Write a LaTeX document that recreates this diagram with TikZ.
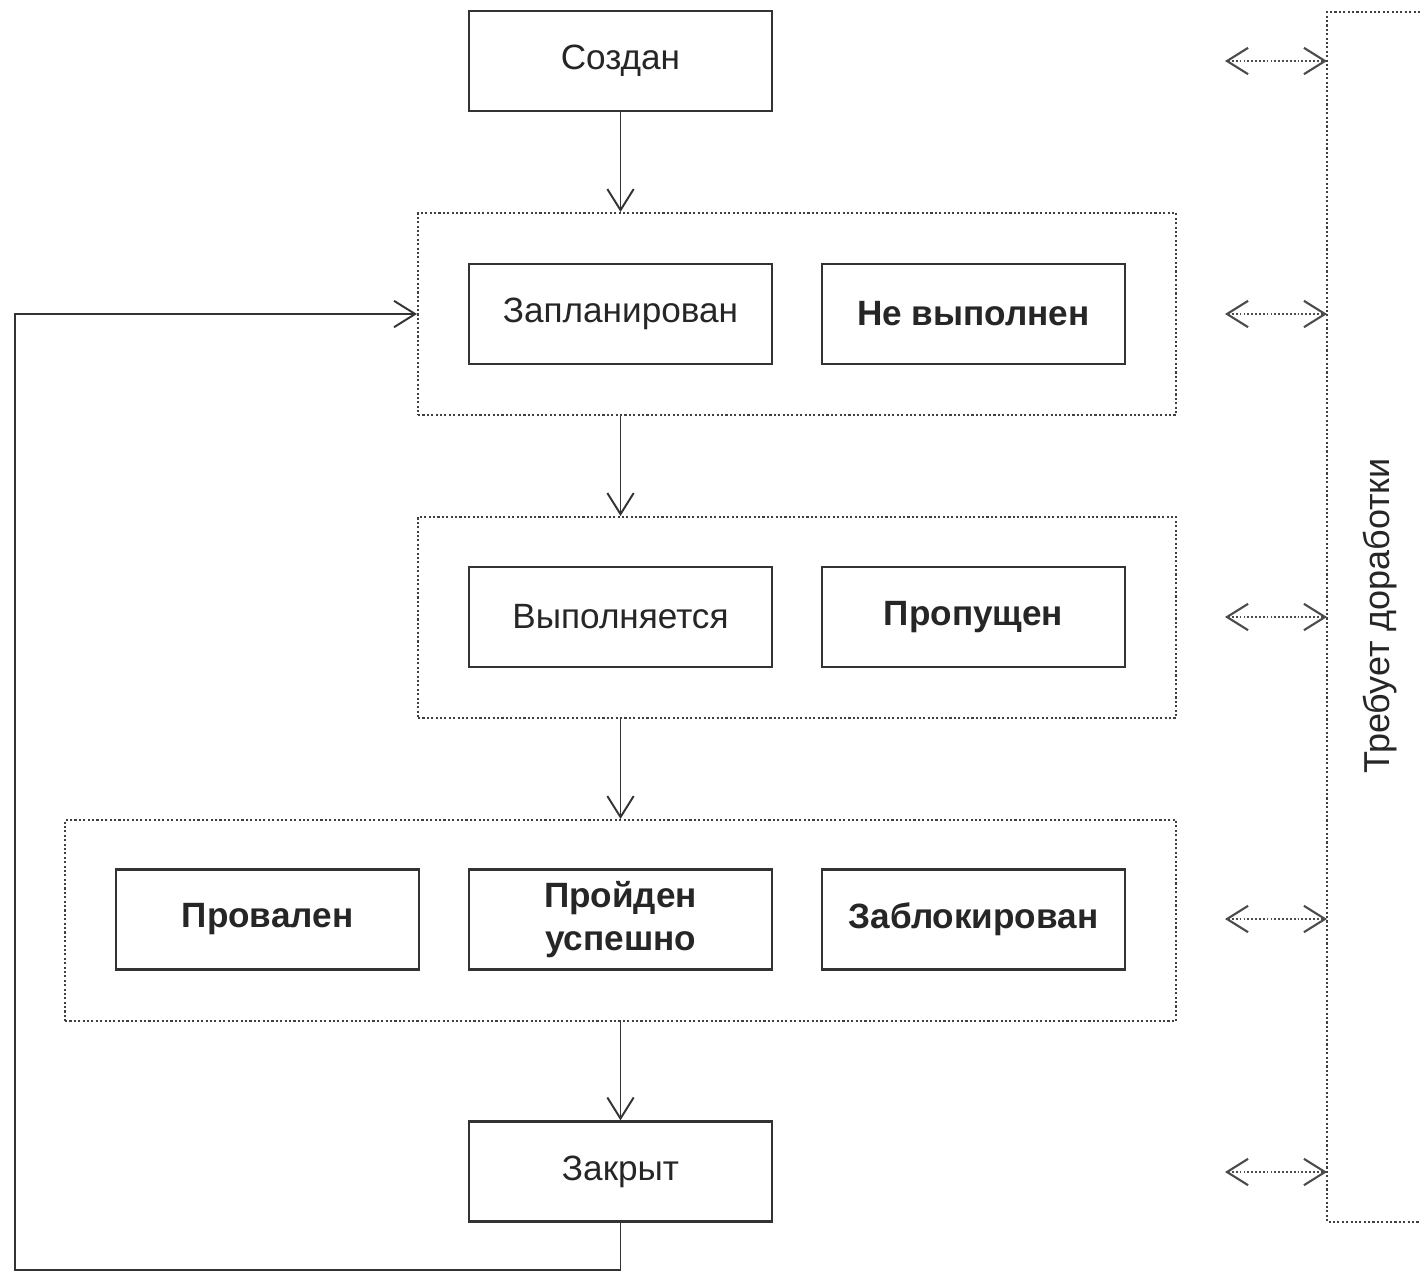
\documentclass[tikz,border=0pt]{standalone}
\usepackage{fontspec}
\setmainfont{Liberation Sans}
\usetikzlibrary{arrows.meta}
\begin{document}
\begin{tikzpicture}[x=0.02cm,y=-0.02cm,
  state/.style={draw=black!80,line width=1.3pt,minimum width=303*0.02cm,minimum height=100*0.02cm,inner sep=0pt,align=center,font=\fontsize{20}{24}\selectfont,text=black!85},
  bstate/.style={state,font=\fontsize{20}{24}\selectfont\bfseries},
  group/.style={draw=black!75,line width=1.2pt,dash pattern=on 1.2pt off 1.3pt,inner sep=0pt},
  flow/.style={draw=black!80,line width=1.1pt,-{Straight Barb[length=12pt,width=15pt,line width=1.1pt]}},
  rework/.style={draw=black!70,line width=1pt,dash pattern=on 1pt off 1.2pt,{Straight Barb[length=12pt,width=15pt,line width=1.2pt,line cap=butt]}-{Straight Barb[length=12pt,width=15pt,line width=1.2pt]}}
]
\useasboundingbox (0,0) rectangle (1420,1272);
\fill[white] (0,0) rectangle (1420,1272);
% groups
\node[group,minimum width=758*0.02cm,minimum height=202*0.02cm] (g1) at (797,314) {};
\node[group,minimum width=758*0.02cm,minimum height=201*0.02cm] (g2) at (797,617.5) {};
\node[group,minimum width=1111*0.02cm,minimum height=201*0.02cm] (g3) at (620.5,920.5) {};
% states
\node[state] (created) at (620.5,61) {Создан};
\node[state] (planned) at (620.5,314) {Запланирован};
\node[bstate] (notdone) at (973.5,314) {Не выполнен};
\node[state] (running) at (620.5,617) {Выполняется};
\node[bstate] (skipped) at (973.5,617) {Пропущен};
\node[bstate] (failed) at (267.5,919.5) {Провален};
\node[bstate] (passed) at (620.5,919.5) {Пройден\\успешно};
\node[bstate] (blocked) at (973.5,919.5) {Заблокирован};
\node[state] (closed) at (620.5,1171.5) {Закрыт};
% main flow
\draw[flow] (created.south) -- (created.south |- g1.north);
\draw[flow] (planned.south |- g1.south) -- (planned.south |- g2.north);
\draw[flow] (running.south |- g2.south) -- (running.south |- g3.north);
\draw[flow] (closed.north |- g3.south) -- (closed.north);
\coordinate (l1) at (620.5,1270);
\coordinate (l2) at (15,1270);
\coordinate (l3) at (15,314);
\draw[flow] (closed.south) -- (l1) -- (l2) -- (l3) -- (g1.west);
% rework bracket
\coordinate (bt) at (1420,12);
\coordinate (bc1) at (1327,12);
\coordinate (bc2) at (1327,1222);
\coordinate (bb) at (1420,1222);
\draw[group] (bt) -- (bc1) -- (bc2) -- (bb);
\node[rotate=90,font=\fontsize{20.5}{24}\selectfont,text=black!85] (rw) at (1380,616) {Требует доработки};
\foreach \y/\n in {61/a,314/b,617/c,919/d,1172/e}{
  \coordinate (rl\n) at (1225,\y);
  \coordinate (rr\n) at (1327,\y);
  \draw[rework] (rl\n) -- (rr\n);
}
\end{tikzpicture}
\end{document}
